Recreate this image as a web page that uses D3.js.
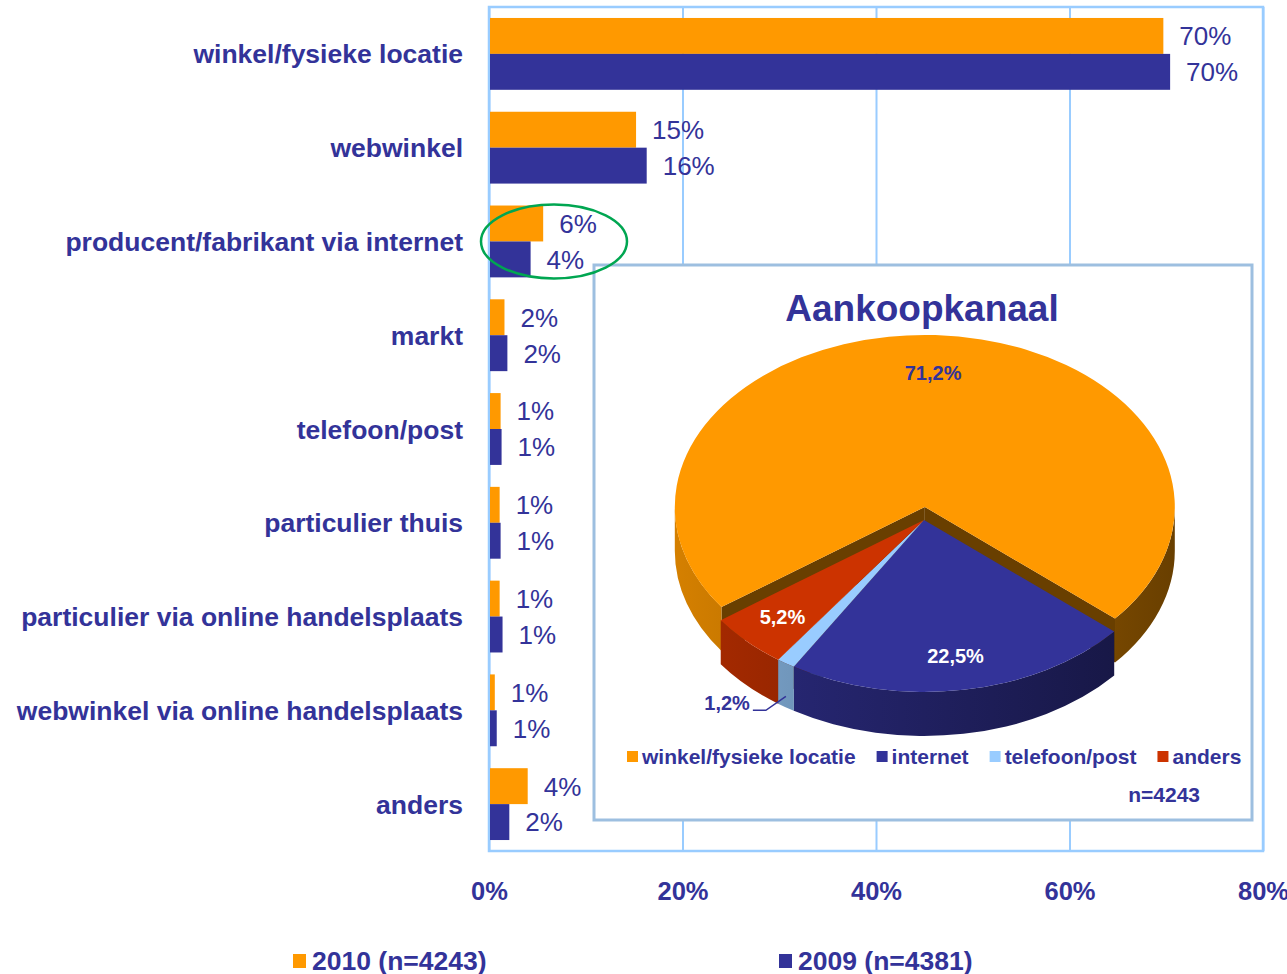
<!DOCTYPE html>
<html>
<head>
<meta charset="utf-8">
<script src="https://cdn.jsdelivr.net/npm/d3@7"></script>
<style>
  body { margin: 0; background: #fff; }
  svg { display: block; font-family: Arial, "Liberation Sans", sans-serif; }
</style>
</head>
<body>
<svg width="1287" height="974"></svg>
<script>
const categories = [
  "winkel/fysieke locatie",
  "webwinkel",
  "producent/fabrikant via internet",
  "markt",
  "telefoon/post",
  "particulier thuis",
  "particulier via online handelsplaats",
  "webwinkel via online handelsplaats",
  "anders"
];
const series = ["2010 (n=4243)", "2009 (n=4381)"];
const values2010 = [69.7, 15.2, 5.6, 1.6, 1.2, 1.1, 1.1, 0.6, 4.0];
const values2009 = [70.4, 16.3, 4.3, 1.9, 1.3, 1.2, 1.4, 0.8, 2.1];
const xTicks = [0, 20, 40, 60, 80];

const pieTitle = "Aankoopkanaal";
const pieCategories = ["winkel/fysieke locatie", "internet", "telefoon/post", "anders"];
const pieValues = [71.2, 22.5, 1.2, 5.2];
const pieNote = "n=4243";

const navy = "#333399";
const barColors = ["#ff9900", "#333399"];
const pieColors = ["#ff9900", "#333399", "#99ccff", "#cc3300"];
const gridColor = "#99ccff";

const svg = d3.select("svg");
const defs = svg.append("defs");

// ---- bar chart ----
const x = d3.scaleLinear().domain([0, 80]).range([489, 1263]);
const y = d3.scaleBand().domain(categories).range([7, 851])
  .paddingInner(0.234).paddingOuter(0.117);
const ySub = d3.scaleBand().domain(series).range([0, y.bandwidth()]);

const rows = categories.map((c, i) => ({ cat: c, vals: [values2010[i], values2009[i]] }));

// gridlines + tick labels
const axis = d3.axisBottom(x).tickValues(xTicks)
  .tickSize(-(851 - 7)).tickPadding(31)
  .tickFormat(d => d + "%");
const gx = svg.append("g").attr("transform", "translate(0,851)").call(axis);
gx.select(".domain").remove();
gx.selectAll(".tick line").attr("stroke", gridColor).attr("stroke-width", 2);
gx.selectAll(".tick text")
  .attr("fill", navy).attr("font-size", 25.5).attr("font-weight", "bold")
  .attr("font-family", "Arial, 'Liberation Sans', sans-serif");

svg.append("rect")
  .attr("x", x(0)).attr("y", 7)
  .attr("width", x(80) - x(0)).attr("height", 851 - 7)
  .attr("fill", "none").attr("stroke", gridColor).attr("stroke-width", 2.5);

const groups = svg.selectAll("g.row").data(rows).join("g")
  .attr("class", "row")
  .attr("transform", d => `translate(0,${y(d.cat)})`);

groups.selectAll("rect").data(d => d.vals.map((v, j) => ({ v, s: series[j], j }))).join("rect")
  .attr("x", x(0) + 1)
  .attr("y", d => ySub(d.s))
  .attr("width", d => x(d.v) - x(0) - 1)
  .attr("height", ySub.bandwidth())
  .attr("fill", d => barColors[d.j]);

groups.selectAll("text.val").data(d => d.vals.map((v, j) => ({ v, s: series[j], j }))).join("text")
  .attr("class", "val")
  .attr("x", d => x(d.v) + 16)
  .attr("y", d => ySub(d.s) + ySub.bandwidth() / 2)
  .attr("dy", "0.36em")
  .attr("fill", navy).attr("font-size", 26)
  .text(d => Math.round(d.v) + "%");

svg.selectAll("text.cat").data(categories).join("text")
  .attr("class", "cat")
  .attr("x", 463)
  .attr("y", d => y(d) + y.bandwidth() / 2)
  .attr("dy", "0.36em")
  .attr("text-anchor", "end")
  .attr("fill", navy).attr("font-size", 26.5).attr("font-weight", "bold")
  .text(d => d);

// bottom legend
const legend = svg.append("g");
const legX = [293, 779];
series.forEach((s, i) => {
  legend.append("rect").attr("x", legX[i]).attr("y", 954).attr("width", 13).attr("height", 14)
    .attr("fill", barColors[i]);
  legend.append("text").attr("x", legX[i] + 19).attr("y", 970)
    .attr("fill", navy).attr("font-size", 26.5).attr("font-weight", "bold").text(s);
});

// ---- inset pie ----
const inset = svg.append("g");
inset.append("rect").attr("x", 594).attr("y", 265).attr("width", 658).attr("height", 555)
  .attr("fill", "#fff").attr("stroke", "#9dbfe0").attr("stroke-width", 3);
inset.append("text").attr("x", 922).attr("y", 321).attr("text-anchor", "middle")
  .attr("fill", navy).attr("font-size", 37).attr("font-weight", "bold").text(pieTitle);

const pcx = 924, pcy = 520, prx = 250, pry = 172, depth = 44, explode = 19;
const start = 234.4 * Math.PI / 180;
const pie = d3.pie().sort(null).startAngle(start).endAngle(start + 2 * Math.PI);
const arcs = pie(pieValues).map((a, i) => {
  const t0 = a.startAngle - Math.PI / 2, t1 = a.endAngle - Math.PI / 2;
  const mid = (t0 + t1) / 2;
  const e = i === 0 ? explode : 0;   // only the big slice is pulled out
  return { ...a, i, t0, t1, mid, ox: e * Math.cos(mid), oy: e * Math.sin(mid) * pry / prx };
});
const pt = (a, t, r = 1, dz = 0) =>
  [pcx + a.ox + prx * r * Math.cos(t), pcy + a.oy + pry * r * Math.sin(t) + dz];

// wall gradients
pieColors.forEach((c, i) => {
  const g = defs.append("linearGradient").attr("id", "wall" + i)
    .attr("gradientUnits", "userSpaceOnUse")
    .attr("x1", pcx - prx).attr("x2", pcx + prx).attr("y1", 0).attr("y2", 0);
  g.append("stop").attr("offset", 0).attr("stop-color", d3.color(c).darker(0.5));
  g.append("stop").attr("offset", 1).attr("stop-color", d3.color(c).darker(2.5));
});

// radial cut faces first, then outer walls, then tops
const faces = inset.append("g");
const walls = inset.append("g");
arcs.forEach(a => {
  [[a.t0, Math.cos(a.t0) < 0], [a.t1, Math.cos(a.t1) > 0]].forEach(([t, vis]) => {
    if (!vis) return;
    const c = pt(a, 0, 0), p = pt(a, t);
    faces.append("path")
      .attr("d", `M${c}L${p}L${p[0]},${p[1] + depth}L${c[0]},${c[1] + depth}Z`)
      .attr("fill", d3.color(pieColors[a.i]).darker(2.5));
  });
  [0, 2 * Math.PI].forEach(k => {
    const lo = Math.max(a.t0, k), hi = Math.min(a.t1, k + Math.PI);
    if (hi <= lo) return;
    const p0 = pt(a, lo), p1 = pt(a, hi);
    walls.append("path")
      .attr("d", `M${p0}A${prx},${pry} 0 0 1 ${p1}L${p1[0]},${p1[1] + depth}` +
        `A${prx},${pry} 0 0 0 ${p0[0]},${p0[1] + depth}Z`)
      .attr("fill", `url(#wall${a.i})`);
  });
});

inset.append("g").selectAll("path").data(arcs).join("path")
  .attr("d", a => {
    const c = pt(a, 0, 0), p0 = pt(a, a.t0), p1 = pt(a, a.t1);
    const large = a.t1 - a.t0 > Math.PI ? 1 : 0;
    return `M${c}L${p0}A${prx},${pry} 0 ${large} 1 ${p1}Z`;
  })
  .attr("fill", a => pieColors[a.i]);

const fmt = v => v.toFixed(1).replace(".", ",") + "%";
arcs.forEach(a => {
  if (a.i === 2) {
    const tip = pt(a, a.mid, 1, depth * 0.75);
    const ex = tip[0] - 20, ey = tip[1] + 14;
    inset.append("path")
      .attr("d", `M${tip}L${ex},${ey}L${ex - 13},${ey}`)
      .attr("fill", "none").attr("stroke", navy).attr("stroke-width", 1.5);
    inset.append("text").attr("x", ex - 16).attr("y", ey)
      .attr("text-anchor", "end")
      .attr("fill", navy).attr("font-size", 20).attr("font-weight", "bold").text(fmt(a.data));
    return;
  }
  const r = a.i === 0 ? 0.78 : 0.8;
  const p = pt(a, a.mid, r);
  inset.append("text").attr("x", p[0]).attr("y", p[1]).attr("dy", "0.35em")
    .attr("text-anchor", "middle")
    .attr("fill", a.i === 0 ? navy : "#fff")
    .attr("font-size", 20).attr("font-weight", "bold").text(fmt(a.data));
});

// inset legend
let lx = 627;
pieCategories.forEach((c, i) => {
  inset.append("rect").attr("x", lx).attr("y", 751).attr("width", 11).attr("height", 11)
    .attr("fill", pieColors[i]);
  const t = inset.append("text").attr("x", lx + 15).attr("y", 764)
    .attr("fill", navy).attr("font-size", 21).attr("font-weight", "bold").text(c);
  lx += 15 + t.node().getComputedTextLength() + 21;
});
inset.append("text").attr("x", 1200).attr("y", 802).attr("text-anchor", "end")
  .attr("fill", navy).attr("font-size", 21).attr("font-weight", "bold").text(pieNote);

// highlight ellipse
const hc = categories[2];
svg.append("ellipse")
  .attr("cx", x(0) + 65).attr("cy", y(hc) + y.bandwidth() / 2)
  .attr("rx", 73).attr("ry", 37)
  .attr("fill", "none").attr("stroke", "#00a651").attr("stroke-width", 2.5);
</script>
</body>
</html>
